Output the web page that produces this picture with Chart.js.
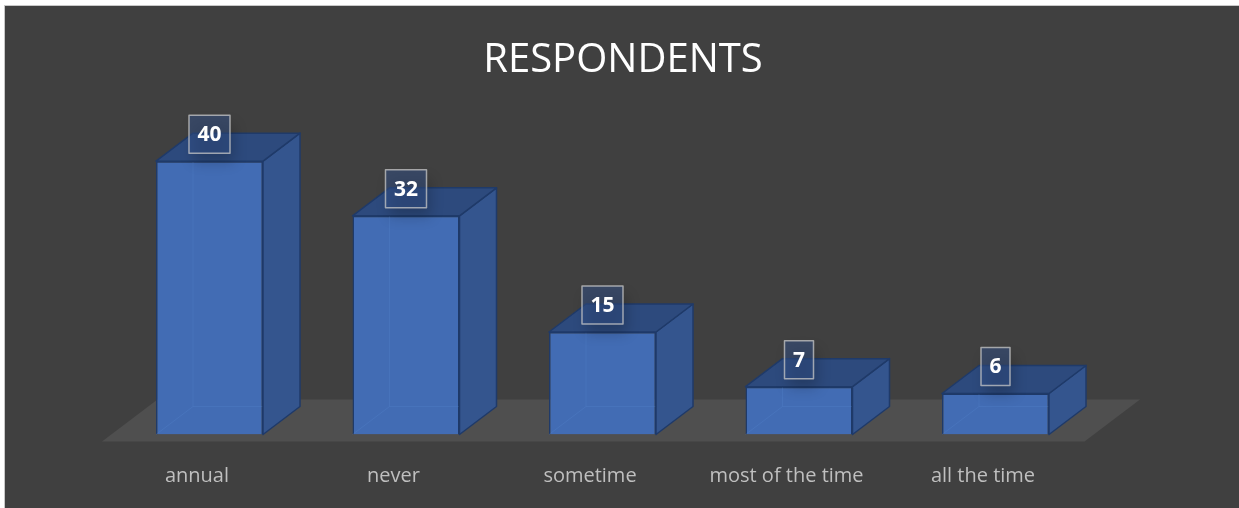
<!DOCTYPE html>
<html>
<head>
<meta charset="utf-8">
<title>Respondents</title>
<script src="https://cdn.jsdelivr.net/npm/chart.js@4"></script>
<style>
  html, body { margin: 0; padding: 0; background: #ffffff; overflow: hidden; }
  #wrap { width: 1239px; height: 508px; }
</style>
</head>
<body>
<div id="wrap"><canvas id="respondentsChart" width="1239" height="508"></canvas></div>
<script>
const categories = ['annual', 'never', 'sometime', 'most of the time', 'all the time'];
const respondents = [40, 32, 15, 7, 6];
const chartTitle = 'RESPONDENTS';

// perspective offset of the back face of each box
const DEPTH = { x: 37, y: -28 };

const FRONT = '#426cb4';
const SIDE = '#34558e';
const TOP = '#2d4a7d';
const EDGE = '#1f3a69';

// background panel, border and title
const panelPlugin = {
    id: 'panel',
    beforeDraw(chart) {
        const ctx = chart.ctx;
        ctx.save();
        ctx.fillStyle = '#ffffff';
        ctx.fillRect(0, 0, chart.width, chart.height);
        ctx.fillStyle = '#404040';
        ctx.fillRect(4, 5, chart.width, chart.height);
        ctx.strokeStyle = '#c8c8c8';
        ctx.lineWidth = 1;
        ctx.strokeRect(4.5, 5.5, chart.width + 10, chart.height + 10);

        ctx.fillStyle = '#ffffff';
        ctx.font = '40px "Open Sans"';
        ctx.textAlign = 'center';
        ctx.textBaseline = 'alphabetic';
        ctx.fillText(chartTitle, 623, 71.5);
        ctx.restore();
    }
};

// floor under the boxes
const floorPlugin = {
    id: 'floor',
    beforeDatasetsDraw(chart) {
        const { ctx, chartArea } = chart;
        const y0 = chart.scales.y.getPixelForValue(0);
        const f = -0.25, b = 1.25;
        ctx.save();
        ctx.fillStyle = '#4f4f4f';
        ctx.beginPath();
        ctx.moveTo(chartArea.left + DEPTH.x * f, y0 + DEPTH.y * f);
        ctx.lineTo(chartArea.right + DEPTH.x * f, y0 + DEPTH.y * f);
        ctx.lineTo(chartArea.right + DEPTH.x * b, y0 + DEPTH.y * b);
        ctx.lineTo(chartArea.left + DEPTH.x * b, y0 + DEPTH.y * b);
        ctx.closePath();
        ctx.fill();
        ctx.restore();
    }
};

function poly(ctx, pts, fill) {
    ctx.beginPath();
    ctx.moveTo(pts[0][0], pts[0][1]);
    for (let i = 1; i < pts.length; i++) ctx.lineTo(pts[i][0], pts[i][1]);
    ctx.closePath();
    ctx.fillStyle = fill;
    ctx.fill();
    ctx.stroke();
}

// top and side faces, hidden edges and value boxes
const boxPlugin = {
    id: 'box3d',
    afterDatasetsDraw(chart) {
        const ctx = chart.ctx;
        const meta = chart.getDatasetMeta(0);
        ctx.save();
        ctx.lineJoin = 'round';
        meta.data.forEach((bar, i) => {
            const { x, y, base, width } = bar.getProps(['x', 'y', 'base', 'width'], true);
            const x1 = x - width / 2, x2 = x + width / 2;
            const dx = DEPTH.x, dy = DEPTH.y;

            // edges seen through the front face
            ctx.strokeStyle = 'rgba(90, 140, 215, 0.22)';
            ctx.lineWidth = 1;
            ctx.beginPath();
            ctx.moveTo(x1 + dx, y + dy);
            ctx.lineTo(x1 + dx, base + dy);
            ctx.lineTo(x2 + dx, base + dy);
            ctx.moveTo(x1 + dx, base + dy);
            ctx.lineTo(x1, base);
            ctx.stroke();

            ctx.strokeStyle = EDGE;
            ctx.lineWidth = 1.5;
            poly(ctx, [[x2, y], [x2 + dx, y + dy], [x2 + dx, base + dy], [x2, base]], SIDE);
            poly(ctx, [[x1, y], [x2, y], [x2 + dx, y + dy], [x1 + dx, y + dy]], TOP);
        });

        // value labels
        ctx.font = 'bold 21px "Open Sans"';
        ctx.textAlign = 'center';
        ctx.textBaseline = 'middle';
        meta.data.forEach((bar, i) => {
            const { x, y } = bar.getProps(['x', 'y'], true);
            const text = String(respondents[i]);
            const w = ctx.measureText(text).width + 17;
            const h = 38;
            const bx = x - w / 2, by = y - 8 - h;

            ctx.save();
            ctx.shadowColor = 'rgba(0, 0, 0, 0.4)';
            ctx.shadowBlur = 14;
            ctx.shadowOffsetX = 4;
            ctx.shadowOffsetY = 9;
            ctx.fillStyle = 'rgba(50, 80, 135, 0.5)';
            ctx.fillRect(bx, by, w, h);
            ctx.restore();

            ctx.strokeStyle = 'rgba(200, 200, 200, 0.75)';
            ctx.lineWidth = 1.5;
            ctx.strokeRect(bx, by, w, h);
            ctx.fillStyle = '#ffffff';
            ctx.fillText(text, x, by + h / 2 + 1);
        });
        ctx.restore();
    }
};

new Chart(document.getElementById('respondentsChart').getContext('2d'), {
    type: 'bar',
    data: {
        labels: categories,
        datasets: [{
            label: chartTitle,
            data: respondents,
            backgroundColor: FRONT,
            borderColor: EDGE,
            borderWidth: 1.5,
            barPercentage: 107 / 196.5,
            categoryPercentage: 1
        }]
    },
    options: {
        responsive: false,
        animation: false,
        layout: {
            padding: { left: 111.25, right: 145.25, top: 127, bottom: 23.5 }
        },
        scales: {
            x: {
                offset: true,
                grid: { display: false, drawTicks: false },
                border: { display: false },
                ticks: {
                    color: '#bfbfbf',
                    font: { family: 'Open Sans', size: 20 },
                    padding: 30,
                    labelOffset: -12.5,
                    maxRotation: 0,
                    autoSkip: false
                },
                afterFit(axis) { axis.height = 50; }
            },
            y: {
                display: false,
                min: 0,
                max: 45
            }
        },
        plugins: {
            legend: { display: false },
            tooltip: { enabled: false },
            title: { display: false }
        }
    },
    plugins: [panelPlugin, floorPlugin, boxPlugin]
});
</script>
</body>
</html>
